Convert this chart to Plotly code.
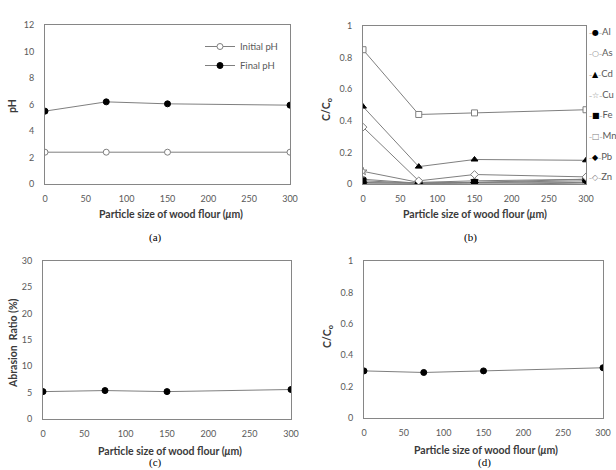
import plotly.graph_objects as go

# ---------------- data ----------------
size_um = [0, 75, 150, 300]

initial_ph = [2.4, 2.4, 2.4, 2.4]
final_ph = [5.5, 6.2, 6.05, 5.95]

metals = ["Al", "As", "Cd", "Cu", "Fe", "Mn", "Pb", "Zn"]
metal_ratio = {
    "Al": [0.005, 0.005, 0.005, 0.01],
    "As": [0.03, 0.005, 0.01, 0.0],
    "Cd": [0.49, 0.11, 0.155, 0.15],
    "Cu": [0.08, 0.01, 0.02, 0.03],
    "Fe": [0.02, 0.005, 0.01, 0.03],
    "Mn": [0.85, 0.44, 0.45, 0.47],
    "Pb": [0.01, 0.005, 0.01, 0.02],
    "Zn": [0.36, 0.02, 0.06, 0.045],
}
abrasion_ratio = [5.2, 5.4, 5.2, 5.6]
ratio_d = [0.30, 0.29, 0.30, 0.32]

# ---------------- styles ----------------
FONT = "Lato"
LINE = "#7f7f7f"
FRAME = "#868686"
TICK = "#595959"
TITLE = "#3a3a3a"

metal_symbol = {
    "Al": ("circle", True, "●"),
    "As": ("circle", False, "○"),
    "Cd": ("triangle-up", True, "▲"),
    "Cu": ("star", False, "☆"),
    "Fe": ("square", True, "■"),
    "Mn": ("square", False, "□"),
    "Pb": ("diamond", True, "◆"),
    "Zn": ("diamond", False, "◇"),
}


def mk(symbol, filled, size=6):
    if filled:
        return dict(symbol=symbol, size=size, color="black", line=dict(color="black", width=1))
    return dict(symbol=symbol, size=size, color="white", line=dict(color=LINE, width=1))


fig = go.Figure()

# (a)
fig.add_trace(go.Scatter(x=size_um, y=initial_ph, name="Initial pH", mode="lines+markers",
                         line=dict(color=LINE, width=1), marker=mk("circle", False, 6),
                         xaxis="x", yaxis="y", legend="legend"))
fig.add_trace(go.Scatter(x=size_um, y=final_ph, name="Final pH", mode="lines+markers",
                         line=dict(color=LINE, width=1), marker=mk("circle", True, 6),
                         xaxis="x", yaxis="y", legend="legend"))

# (b)
for m in metals:
    sym, filled, _ = metal_symbol[m]
    fig.add_trace(go.Scatter(x=size_um, y=metal_ratio[m], name=m, mode="lines+markers",
                             line=dict(color=LINE, width=1), marker=mk(sym, filled, 6),
                             xaxis="x2", yaxis="y2", showlegend=False))

# (c)
fig.add_trace(go.Scatter(x=size_um, y=abrasion_ratio, mode="lines+markers",
                         line=dict(color=LINE, width=1), marker=mk("circle", True, 6),
                         xaxis="x3", yaxis="y3", showlegend=False))
# (d)
fig.add_trace(go.Scatter(x=size_um, y=ratio_d, mode="lines+markers",
                         line=dict(color=LINE, width=1), marker=mk("circle", True, 6),
                         xaxis="x4", yaxis="y4", showlegend=False))

W, H = 616, 470


def px(x):
    return x / W


def py(y):
    return 1 - y / H


def xax(l, r):
    return dict(domain=[px(l), px(r)], range=[0, 300], dtick=50, showline=True, mirror=True,
                linecolor=FRAME, linewidth=1, showgrid=False, zeroline=False, ticks="",
                ticklabelstandoff=6,
                tickfont=dict(family=FONT, size=9, color=TICK), fixedrange=True)


def yax(t, b, rng, dt):
    return dict(domain=[py(b), py(t)], range=rng, dtick=dt, showline=True, mirror=True,
                linecolor=FRAME, linewidth=1, showgrid=False, zeroline=False, ticks="",
                ticklabelstandoff=8,
                tickfont=dict(family=FONT, size=9, color=TICK), fixedrange=True)


layout = dict(
    width=W, height=H, margin=dict(l=0, r=0, t=0, b=0, autoexpand=False),
    paper_bgcolor="white", plot_bgcolor="white",
    font=dict(family=FONT, size=10, color=TITLE),
    xaxis=dict(xax(45, 290), anchor="y"),
    yaxis=dict(yax(25, 184, [0, 12], 2), anchor="x"),
    xaxis2=dict(xax(363, 586), anchor="y2"),
    yaxis2=dict(yax(26, 184, [0, 1], 0.2), anchor="x2"),
    xaxis3=dict(xax(43, 291), anchor="y3"),
    yaxis3=dict(yax(261, 419, [0, 30], 5), anchor="x3"),
    xaxis4=dict(xax(364, 603), anchor="y4"),
    yaxis4=dict(yax(261, 418, [0, 1], 0.2), anchor="x4"),
    legend=dict(x=px(200), y=py(32), xanchor="left", yanchor="top", bgcolor="rgba(0,0,0,0)",
                font=dict(family=FONT, size=9.5, color=TICK), itemwidth=30, tracegroupgap=0),
    showlegend=True,
)
fig.update_layout(**layout)

xtitle = "<b>Particle size of wood flour (<i>μ</i>m)</b>"
ann = []
for (cx, cy) in [(171, 214), (475, 214), (170, 451), (486, 450)]:
    ann.append(dict(text=xtitle, x=px(cx), y=py(cy), xref="paper", yref="paper",
                    xanchor="center", yanchor="middle",
                    showarrow=False, font=dict(family=FONT, size=10.5, color=TITLE)))
for (txt, cx, cy) in [("<b>pH</b>", 12, 106), ("<b>C/C<sub>o</sub></b>", 327, 110),
                      ("<b>Abrasion  Ratio (%)</b>", 13, 343), ("<b>C/C<sub>o</sub></b>", 328, 337)]:
    ann.append(dict(text=txt, x=px(cx), y=py(cy), xref="paper", yref="paper", textangle=-90,
                    xanchor="center", yanchor="middle",
                    showarrow=False, font=dict(family=FONT, size=10.5, color=TITLE)))
for (txt, cx, cy) in [("(a)", 155, 237), ("(b)", 470, 237), ("(c)", 155, 462), ("(d)", 484, 462)]:
    ann.append(dict(text=txt, x=px(cx), y=py(cy), xref="paper", yref="paper", showarrow=False,
                    xanchor="center", yanchor="middle",
                    font=dict(family="Liberation Serif", size=11, color="black")))

# legend of (b), laid out as text beside the plot
for i, m in enumerate(metals):
    sym, filled, glyph = metal_symbol[m]
    gcol = "black" if filled else LINE
    txt = (f"<span style='font-size:6px;color:{LINE}'>–</span><span style='color:{gcol}'>{glyph}</span>"
           f"<span style='font-size:6px;color:{LINE}'>–</span>"
           f"<span style='font-family:{FONT};font-size:9.5px;color:{TICK}'>{m}</span>")
    ann.append(dict(text=txt, x=px(588), y=py(32 + i * 20.7), xref="paper", yref="paper",
                    xanchor="left", yanchor="middle", showarrow=False, borderpad=0,
                    font=dict(family="DejaVu Sans", size=8)))

fig.update_layout(annotations=ann)
fig.write_html("out.html")
